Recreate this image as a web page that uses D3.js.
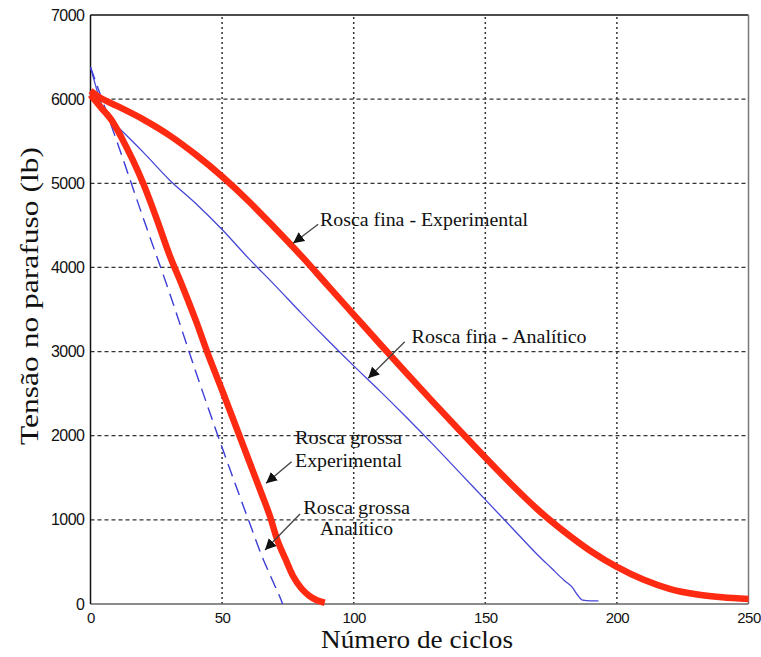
<!DOCTYPE html>
<html>
<head>
<meta charset="utf-8">
<script src="https://cdnjs.cloudflare.com/ajax/libs/d3/7.8.5/d3.min.js"></script>
<style>
  html, body { margin: 0; padding: 0; background: #fff; }
  svg { display: block; }
</style>
</head>
<body>
<svg id="chart" width="761" height="657"></svg>
<script>
// ---- Data ----
const xTicks = [0, 50, 100, 150, 200, 250];
const yTicks = [0, 1000, 2000, 3000, 4000, 5000, 6000, 7000];

const finaExpX = [0, 3, 10, 20, 30, 40, 50, 60, 70, 80, 90, 100, 110, 120, 130, 140, 150, 160, 170, 180, 190, 200, 210, 220, 230, 240, 250];
const finaExpY = [6100, 6030, 5920, 5760, 5570, 5340, 5080, 4790, 4470, 4140, 3790, 3440, 3090, 2745, 2405, 2070, 1740, 1420, 1120, 860, 630, 440, 290, 180, 115, 80, 60];

const finaAnaX = [0, 3, 6, 10, 20, 30, 40, 50, 60, 70, 80, 90, 100, 110, 120, 130, 140, 150, 160, 170, 175, 180, 183, 185, 187, 190, 193];
const finaAnaY = [6380, 6050, 5800, 5680, 5370, 5040, 4760, 4450, 4110, 3790, 3460, 3140, 2830, 2530, 2220, 1900, 1570, 1240, 910, 580, 430, 280, 200, 110, 45, 38, 38];

const grossaExpX = [0, 4, 8, 12, 16, 20, 25, 30, 35, 40, 45, 50, 55, 60, 65, 68, 71, 74, 77, 80, 83, 86, 89];
const grossaExpY = [6050, 5900, 5750, 5530, 5280, 5000, 4590, 4150, 3770, 3370, 2940, 2540, 2130, 1720, 1310, 1060, 760, 540, 330, 190, 100, 45, 15];

const grossaAnaX = [0, 10, 20, 30, 40, 50, 60, 65, 70, 72, 73];
const grossaAnaY = [6380, 5500, 4590, 3700, 2760, 1860, 1000, 580, 220, 80, 0];

// annotations (data units): text lines and arrow from -> tip
const annLabels = ["Rosca fina - Experimental", "Rosca fina - Analítico", "Rosca grossa", "Experimental", "Rosca grossa", "Analítico"];
const annTextX = [87.2, 122.0, 77.7, 77.7, 80.8, 87.2];
const annTextY = [4496, 3097, 1902, 1632, 1070, 820];
const annTextLen = [208, 175, 107, 107, 107, 73];
const arrowFromX = [86.5, 119.4, 76.4, 79.6];
const arrowFromY = [4513, 3117, 1691, 1070];
const arrowTipX = [77.0, 105.5, 66.7, 66.3];
const arrowTipY = [4287, 2682, 1435, 642];

// ---- Chart ----
const svg = d3.select("#chart");
const x = d3.scaleLinear().domain([0, 250]).range([90.5, 748.5]);
const y = d3.scaleLinear().domain([0, 7000]).range([604, 15]);

// grid
const g = svg.append("g");
g.selectAll("line.hgrid").data(yTicks.filter(d => d > 0 && d < 7000)).enter()
  .append("line").attr("class", "hgrid")
  .attr("x1", x(0)).attr("x2", x(250))
  .attr("y1", d => y(d)).attr("y2", d => y(d))
  .attr("stroke", "#333").attr("stroke-width", 1.2).attr("stroke-dasharray", "4,3");
g.selectAll("line.vgrid").data(xTicks.filter(d => d > 0 && d < 250)).enter()
  .append("line").attr("class", "vgrid")
  .attr("x1", d => x(d)).attr("x2", d => x(d))
  .attr("y1", y(0)).attr("y2", y(7000))
  .attr("stroke", "#333").attr("stroke-width", 1.5).attr("stroke-dasharray", "2,3");

// frame
svg.append("line").attr("x1", x(0)).attr("x2", x(250)).attr("y1", y(7000)).attr("y2", y(7000))
  .attr("stroke", "#111").attr("stroke-width", 1.5);
svg.append("line").attr("x1", x(250)).attr("x2", x(250)).attr("y1", y(7000)).attr("y2", y(0))
  .attr("stroke", "#777").attr("stroke-width", 1.5);
svg.append("line").attr("x1", x(0)).attr("x2", x(250)).attr("y1", y(0)).attr("y2", y(0))
  .attr("stroke", "#666").attr("stroke-width", 1.5);
svg.append("line").attr("x1", x(0)).attr("x2", x(0)).attr("y1", y(7000)).attr("y2", y(0))
  .attr("stroke", "#111").attr("stroke-width", 1.5);

// axes (labels only)
const xAxis = d3.axisBottom(x).tickValues(xTicks).tickSize(0).tickPadding(8).tickFormat(d3.format("d"));
const yAxis = d3.axisLeft(y).tickValues(yTicks).tickSize(0).tickPadding(6).tickFormat(d3.format("d"));
const gx = svg.append("g").attr("transform", `translate(0,${y(0)})`).call(xAxis);
const gy = svg.append("g").attr("transform", `translate(${x(0)},0)`).call(yAxis);
[gx, gy].forEach(a => {
  a.select(".domain").remove();
  a.selectAll("text").attr("font-family", "'Liberation Sans', Arial, sans-serif").attr("fill", "#111");
});
gx.selectAll("text").attr("font-size", 15).attr("letter-spacing", "-0.5px");
gy.selectAll("text").attr("font-size", 16).attr("letter-spacing", "-0.5px");

// lines
const line = d3.line().x(d => x(d[0])).y(d => y(d[1])).curve(d3.curveMonotoneX);
const zip = (a, b) => a.map((v, i) => [v, b[i]]);

svg.append("path").datum(zip(finaAnaX, finaAnaY)).attr("d", line)
  .attr("fill", "none").attr("stroke", "#4646d8").attr("stroke-width", 1.3);
svg.append("path").datum(zip(grossaAnaX, grossaAnaY)).attr("d", line)
  .attr("fill", "none").attr("stroke", "#3c3cd8").attr("stroke-width", 1.4).attr("stroke-dasharray", "13,7");
svg.append("path").datum(zip(finaExpX, finaExpY)).attr("d", line)
  .attr("fill", "none").attr("stroke", "#ff2a12").attr("stroke-width", 6.5).attr("stroke-linejoin", "round");
svg.append("path").datum(zip(grossaExpX, grossaExpY)).attr("d", line)
  .attr("fill", "none").attr("stroke", "#ff2a12").attr("stroke-width", 6.5).attr("stroke-linejoin", "round");

// arrowhead marker
svg.append("defs").append("marker")
  .attr("id", "ah").attr("viewBox", "0 0 10 10").attr("refX", 10).attr("refY", 5)
  .attr("markerWidth", 11).attr("markerHeight", 11).attr("markerUnits", "userSpaceOnUse")
  .attr("orient", "auto")
  .append("path").attr("d", "M0,0 L10,5 L0,10 z").attr("fill", "#111");

arrowFromX.forEach((fx, i) => {
  svg.append("line")
    .attr("x1", x(fx)).attr("y1", y(arrowFromY[i]))
    .attr("x2", x(arrowTipX[i])).attr("y2", y(arrowTipY[i]))
    .attr("stroke", "#444").attr("stroke-width", 1.3)
    .attr("marker-end", "url(#ah)");
});

annLabels.forEach((t, i) => {
  svg.append("text")
    .attr("x", x(annTextX[i])).attr("y", y(annTextY[i]))
    .attr("font-family", "'Liberation Serif', 'Times New Roman', serif")
    .attr("font-size", 18).attr("fill", "#111")
    .attr("textLength", annTextLen[i]).attr("lengthAdjust", "spacingAndGlyphs")
    .text(t);
});

// axis titles
svg.append("text").attr("x", 417).attr("y", 648).attr("text-anchor", "middle")
  .attr("font-family", "'Liberation Serif', 'Times New Roman', serif").attr("font-size", 25)
  .attr("textLength", 192).attr("lengthAdjust", "spacingAndGlyphs").attr("fill", "#111")
  .text("Número de ciclos");
svg.append("text").attr("transform", "translate(38,296) rotate(-90)").attr("text-anchor", "middle")
  .attr("font-family", "'Liberation Serif', 'Times New Roman', serif").attr("font-size", 26)
  .attr("textLength", 298).attr("lengthAdjust", "spacingAndGlyphs").attr("fill", "#111")
  .text("Tensão no parafuso (lb)");
</script>
</body>
</html>
